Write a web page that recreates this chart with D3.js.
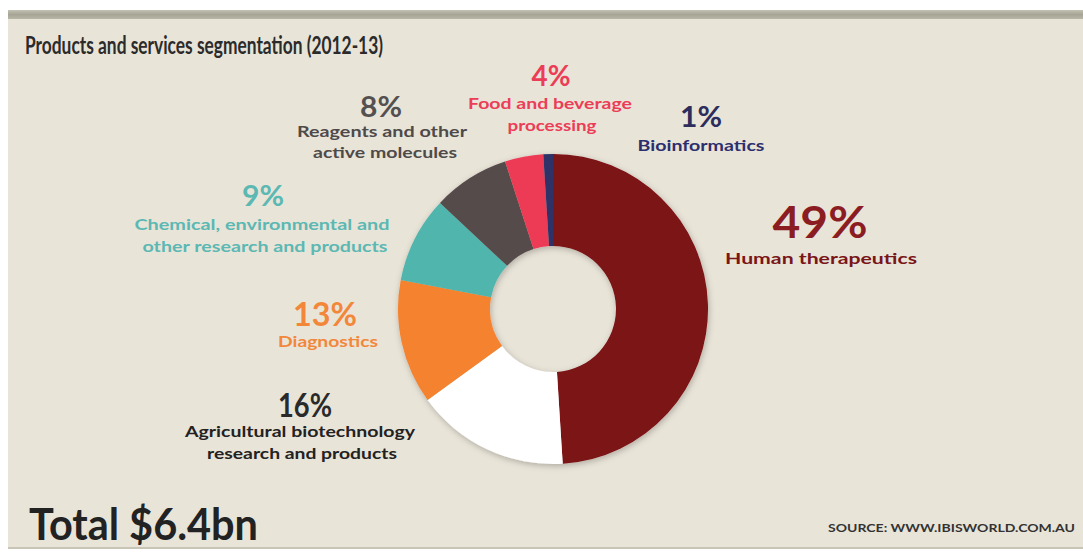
<!DOCTYPE html>
<html>
<head>
<meta charset="utf-8">
<script src="https://cdn.jsdelivr.net/npm/d3@7"></script>
<style>
  html, body { margin: 0; padding: 0; background: #ffffff; }
  svg { display: block; }
</style>
</head>
<body>
<div id="chart"></div>
<script>
// ---- Data ----
const title = "Products and services segmentation (2012-13)";
const totalLabel = "Total $6.4bn";
const sourceLabel = "SOURCE: WWW.IBISWORLD.COM.AU";
const categories = [
  "Human therapeutics",
  "Agricultural biotechnology research and products",
  "Diagnostics",
  "Chemical, environmental and other research and products",
  "Reagents and other active molecules",
  "Food and beverage processing",
  "Bioinformatics"
];
const shares = [49, 16, 13, 9, 8, 4, 1];
const labelLines = [
  ["Human therapeutics"],
  ["Agricultural biotechnology", "research and products"],
  ["Diagnostics"],
  ["Chemical, environmental and", "other research and products"],
  ["Reagents and other", "active molecules"],
  ["Food and beverage", "processing"],
  ["Bioinformatics"]
];

// ---- Styling / layout ----
const W = 1083, H = 552;
const sliceColors = ["#7c1214", "#ffffff", "#f5822e", "#4fb5ad", "#574c4b", "#ee3a55", "#2d3066"];
const pctColors   = ["#8b1c22", "#2a2a2a", "#f2873a", "#5bb8b3", "#555050", "#ec3d57", "#2c2d5c"];
const textColors  = ["#7a1518", "#222222", "#f2873a", "#5bb8b3", "#4f4a4a", "#ec3d57", "#2c2f6e"];
// label layout: center x, pct baseline, pct size, pct width, line baselines, line size, line widths, line centers
const labelLayout = [
  {cx: 820, py: 238, ps: 43, pw: 95, ly: [264], ls: 16, lw: [192], lx: [821]},
  {cx: 305, py: 417, ps: 32, pw: 54, ly: [437, 459], ls: 16, lw: [230, 190], lx: [300, 302]},
  {cx: 325, py: 326, ps: 32, pw: 64, ly: [347], ls: 15, lw: [100], lx: [328]},
  {cx: 263, py: 206, ps: 29, pw: 42, ly: [230, 252], ls: 15, lw: [255, 245], lx: [262, 265]},
  {cx: 381, py: 117, ps: 29, pw: 42, ly: [137, 158], ls: 15, lw: [170, 144], lx: [382, 385]},
  {cx: 551, py: 86, ps: 29, pw: 39, ly: [109, 131], ls: 15, lw: [164, 89], lx: [550, 552]},
  {cx: 701, py: 127, ps: 29, pw: 42, ly: [151], ls: 15, lw: [127], lx: [701]}
];
const font = "Lato, 'Open Sans', 'DejaVu Sans', sans-serif";

const svg = d3.select("#chart").append("svg")
  .attr("width", W).attr("height", H);

const defs = svg.append("defs");
const sh = defs.append("filter").attr("id", "shadow")
  .attr("x", "-20%").attr("y", "-20%").attr("width", "140%").attr("height", "140%");
sh.append("feDropShadow").attr("dx", 1).attr("dy", 2).attr("stdDeviation", 3)
  .attr("flood-color", "#000").attr("flood-opacity", 0.25);
const bar = defs.append("linearGradient").attr("id", "bar").attr("x1", 0).attr("x2", 0).attr("y1", 0).attr("y2", 1);
bar.append("stop").attr("offset", "0%").attr("stop-color", "#c4c2b4");
bar.append("stop").attr("offset", "50%").attr("stop-color", "#a6a494");
bar.append("stop").attr("offset", "100%").attr("stop-color", "#b8b6a6");

// Panel
svg.append("rect").attr("x", 0).attr("y", 0).attr("width", W).attr("height", H).attr("fill", "#ffffff");
svg.append("rect").attr("x", 8).attr("y", 18).attr("width", W - 8).attr("height", 530).attr("fill", "#e9e4d8");
svg.append("rect").attr("x", 8).attr("y", 10).attr("width", W - 8).attr("height", 9).attr("fill", "url(#bar)");
svg.append("rect").attr("x", 8).attr("y", 547).attr("width", W - 8).attr("height", 2).attr("fill", "#c9c5b6");

// Title
svg.append("text").attr("x", 25).attr("y", 54)
  .attr("font-family", font).attr("font-size", 24).attr("font-weight", 700)
  .attr("fill", "#2b2b2b")
  .attr("textLength", 358).attr("lengthAdjust", "spacingAndGlyphs")
  .text(title);

// Donut
const cx = 553, cy = 309, R = 155, r = 63;
const pie = d3.pie().sort(null).value(d => d)(shares);
const arc = d3.arc().innerRadius(r).outerRadius(R);
const g = svg.append("g").attr("transform", `translate(${cx},${cy})`);
g.append("g").attr("filter", "url(#shadow)")
  .selectAll("path").data(pie).join("path")
  .attr("d", arc)
  .attr("fill", (d, i) => sliceColors[i]);

// Labels
labelLayout.forEach((L, i) => {
  svg.append("text")
    .attr("x", L.cx).attr("y", L.py)
    .attr("text-anchor", "middle")
    .attr("font-family", font).attr("font-size", L.ps).attr("font-weight", 700)
    .attr("fill", pctColors[i])
    .attr("textLength", L.pw).attr("lengthAdjust", "spacingAndGlyphs")
    .text(shares[i] + "%");
  labelLines[i].forEach((line, j) => {
    svg.append("text")
      .attr("x", L.lx[j]).attr("y", L.ly[j])
      .attr("text-anchor", "middle")
      .attr("font-family", font).attr("font-size", L.ls).attr("font-weight", 700)
      .attr("fill", textColors[i])
      .attr("textLength", L.lw[j]).attr("lengthAdjust", "spacingAndGlyphs")
      .text(line);
  });
});

// Footer
svg.append("text").attr("x", 29).attr("y", 540)
  .attr("font-family", font).attr("font-size", 44).attr("font-weight", 700)
  .attr("fill", "#222222")
  .attr("textLength", 229).attr("lengthAdjust", "spacingAndGlyphs")
  .text(totalLabel);
svg.append("text").attr("x", 828).attr("y", 532)
  .attr("font-family", font).attr("font-size", 11).attr("font-weight", 700)
  .attr("fill", "#333333")
  .attr("textLength", 247).attr("lengthAdjust", "spacingAndGlyphs")
  .text(sourceLabel);
</script>
</body>
</html>
